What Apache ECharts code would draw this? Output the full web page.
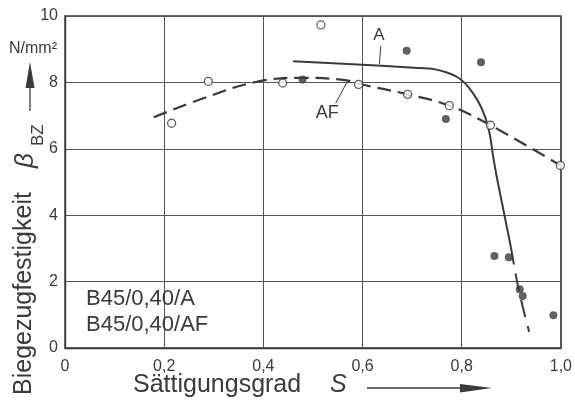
<!DOCTYPE html>
<html>
<head>
<meta charset="utf-8">
<script src="https://cdn.jsdelivr.net/npm/echarts@6/dist/echarts.min.js"></script>
<style>
html,body{margin:0;padding:0;background:#fff;}
#c{width:575px;height:403px;}
</style>
</head>
<body>
<div id="c"></div>
<script>
// ---- data ----
const xTickValues = [0, 0.2, 0.4, 0.6, 0.8, 1.0];
const xTickLabels = ['0', '0,2', '0,4', '0,6', '0,8', '1,0'];
const yTickLabels = ['0', '2', '4', '6', '8', '10'];

// AF specimens (open circles)
const openS   = [0.215, 0.289, 0.439, 0.516, 0.592, 0.691, 0.775, 0.858, 0.999];
const openVal = [6.77, 8.03, 7.98, 9.73, 7.94, 7.64, 7.30, 6.71, 5.50];

// A specimens (filled circles)
const filledS   = [0.479, 0.689, 0.768, 0.839, 0.866, 0.895, 0.917, 0.923, 0.985];
const filledVal = [8.09, 8.95, 6.90, 8.61, 2.77, 2.73, 1.77, 1.57, 0.99];

// curve A (solid part)
const curveAS   = [0.460, 0.638, 0.704, 0.744, 0.770, 0.790, 0.807, 0.823, 0.837, 0.847, 0.853, 0.858, 0.863, 0.870, 0.878, 0.899];
const curveAVal = [8.64, 8.50, 8.44, 8.40, 8.30, 8.17, 7.97, 7.67, 7.32, 6.97, 6.67, 6.32, 5.81, 5.21, 4.61, 3.05];
// curve A (dashed extrapolation)
const curveAExtS   = [0.899, 0.911, 0.923, 0.936];
const curveAExtVal = [3.05, 2.05, 1.24, 0.49];

// curve AF (dashed)
const curveAFS   = [0.179, 0.288, 0.387, 0.479, 0.565, 0.592, 0.691, 0.775, 0.858, 0.999];
const curveAFVal = [6.95, 7.57, 8.02, 8.14, 8.07, 7.96, 7.64, 7.30, 6.71, 5.50];

// curve annotations (data coordinates)
const labelA  = [0.633, 9.43];
const leaderA = [[0.637, 9.10], [0.634, 8.55]];
const labelAF  = [0.529, 7.07];
const leaderAF = [[0.546, 7.37], [0.569, 8.02]];

const legendLines = ['B45/0,40/A', 'B45/0,40/AF'];

// ---- chart ----
const INK = '#3a3a3a';
const FONT = '"Liberation Sans", Arial, sans-serif';
const zip = (a, b) => a.map((v, i) => [v, b[i]]);

const chart = echarts.init(document.getElementById('c'), null, {renderer: 'canvas'});

chart.setOption({
  backgroundColor: '#fff',
  animation: false,
  grid: {left: 65, right: 6, top: 16, bottom: 55, show: true, borderColor: INK, borderWidth: 1.4, backgroundColor: 'transparent'},
  xAxis: {
    type: 'value', min: 0, max: 1, interval: 0.2,
    axisLine: {show: true, lineStyle: {color: INK, width: 1.4}},
    axisTick: {show: false},
    splitLine: {show: true, lineStyle: {color: '#555', width: 1}},
    axisLabel: {
      margin: 11, color: INK, fontFamily: FONT, fontSize: 16,
      formatter: v => { const i = xTickValues.findIndex(t => Math.abs(t - v) < 1e-6); return i >= 0 ? xTickLabels[i] : ''; }
    }
  },
  yAxis: {
    type: 'value', min: 0, max: 10, interval: 2,
    axisLine: {show: true, lineStyle: {color: INK, width: 1.4}},
    axisTick: {show: false},
    splitLine: {show: true, lineStyle: {color: '#555', width: 1}},
    axisLabel: {
      margin: 7, color: INK, fontFamily: FONT, fontSize: 16,
      formatter: v => yTickLabels[Math.round(v / 2)]
    }
  },
  series: [
    {
      name: 'A', type: 'line', data: zip(curveAS, curveAVal),
      showSymbol: false, smooth: 0.3,
      lineStyle: {color: INK, width: 2}, z: 2
    },
    {
      name: 'A (extrapoliert)', type: 'line', data: zip(curveAExtS, curveAExtVal),
      showSymbol: false, smooth: 0.2,
      lineStyle: {color: INK, width: 2, type: [18, 9]}, z: 2
    },
    {
      name: 'AF', type: 'line', data: zip(curveAFS, curveAFVal),
      showSymbol: false, smooth: 0.4,
      lineStyle: {color: INK, width: 2.2, type: [14, 7]}, z: 2
    },
    {
      name: 'A Messwerte', type: 'scatter', data: zip(filledS, filledVal),
      symbol: 'circle', symbolSize: 8,
      itemStyle: {color: INK}, z: 4
    },
    {
      name: 'AF Messwerte', type: 'scatter', data: zip(openS, openVal),
      symbol: 'circle', symbolSize: 8,
      itemStyle: {color: '#fff', borderColor: INK, borderWidth: 1.3}, z: 4
    }
  ]
});

function px(p) { return chart.convertToPixel({gridIndex: 0}, p); }

const pA = px(labelA), pAF = px(labelAF);
const la0 = px(leaderA[0]), la1 = px(leaderA[1]);
const lf0 = px(leaderAF[0]), lf1 = px(leaderAF[1]);

function txt(x, y, text, font, align, valign, rotation) {
  return {
    type: 'text', x: x, y: y, rotation: rotation || 0, z: 10,
    style: {
      text: text, font: font, fill: INK,
      align: align, verticalAlign: valign,
      textAlign: align, textVerticalAlign: valign
    }
  };
}

chart.setOption({
  graphic: [
    // curve labels + leaders
    txt(pA[0], pA[1], 'A', '17px ' + FONT, 'center', 'middle'),
    {type: 'line', z: 10, shape: {x1: la0[0], y1: la0[1], x2: la1[0], y2: la1[1]}, style: {stroke: INK, lineWidth: 1}},
    txt(pAF[0], pAF[1], 'AF', '18px ' + FONT, 'center', 'middle'),
    {type: 'line', z: 10, shape: {x1: lf0[0], y1: lf0[1], x2: lf1[0], y2: lf1[1]}, style: {stroke: INK, lineWidth: 1}},

    // specimen designation
    txt(86, 299, legendLines[0], '22px ' + FONT, 'left', 'middle'),
    txt(86, 325, legendLines[1], '22px ' + FONT, 'left', 'middle'),

    // x-axis title + arrow
    txt(133, 385, 'Sättigungsgrad', '25px ' + FONT, 'left', 'middle'),
    txt(330, 385, 'S', 'italic 25px ' + FONT, 'left', 'middle'),
    {type: 'line', z: 10, shape: {x1: 367, y1: 388, x2: 462, y2: 388}, style: {stroke: INK, lineWidth: 1.3}},
    {type: 'polygon', z: 10, shape: {points: [[460, 384], [460, 392.5], [492, 388]]}, style: {fill: INK}},

    // y-axis title + arrow + unit
    txt(24, 395, 'Biegezugfestigkeit', '25px ' + FONT, 'left', 'middle', Math.PI / 2),
    txt(26, 168, 'β', 'italic 26px ' + FONT, 'left', 'middle', Math.PI / 2),
    txt(38, 146, 'BZ', '17px ' + FONT, 'left', 'middle', Math.PI / 2),
    {type: 'line', z: 10, shape: {x1: 30, y1: 111, x2: 30, y2: 86}, style: {stroke: INK, lineWidth: 1.3}},
    {type: 'polygon', z: 10, shape: {points: [[25.5, 88], [34.5, 88], [30, 62]]}, style: {fill: INK}},
    txt(9, 49, 'N/mm²', '16px ' + FONT, 'left', 'middle')
  ]
});
</script>
</body>
</html>
